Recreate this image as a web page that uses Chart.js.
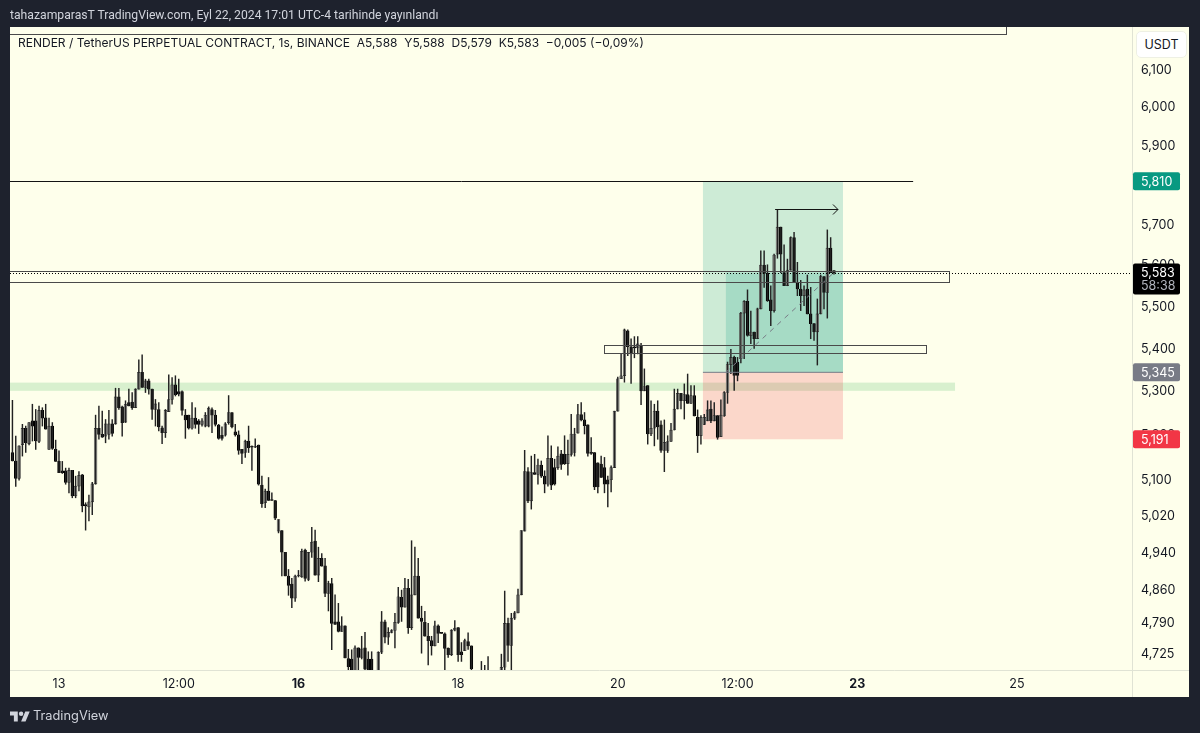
<!DOCTYPE html>
<html>
<head>
    <title>RENDER / TetherUS PERPETUAL CONTRACT</title>
    <script src="https://cdn.jsdelivr.net/npm/chart.js"></script>
    <style>
        html, body { margin: 0; padding: 0; background: #1e222d; overflow: hidden; }
        canvas { position: absolute; left: 0; top: 0; }
        .txt { position: absolute; font-family: Inter, sans-serif; white-space: pre; }
        #published { left: 10px; top: 7px; font-family: Roboto, sans-serif; font-size: 12.2px; line-height: 16px; color: #d1d4dc; }
        #legend { left: 18px; top: 35px; font-size: 12px; line-height: 16px; color: #131722; }
        #unit { left: 1136px; top: 31px; width: 49px; height: 25px; line-height: 25px; text-align: center; font-size: 12.5px;
                color: #131722; background: #fff; border: 1px solid #eef0e4; border-radius: 5px; }
        #brand { left: 33px; top: 707px; font-size: 12.8px; line-height: 18px; color: #d1d4dc; }
        #logo { position: absolute; left: 10px; top: 709px; }
    </style>
</head>
<body>
    <canvas id="priceChart" width="1200" height="733"></canvas>
    <div class="txt" id="published">tahazamparasT TradingView.com, Eyl 22, 2024 17:01 UTC-4 tarihinde yayınlandı</div>
    <div class="txt" id="legend">RENDER / TetherUS PERPETUAL CONTRACT, 1s, BINANCE  A5,588  Y5,588  D5,579  K5,583  −0,005 (−0,09%)</div>
    <div class="txt" id="unit">USDT</div>
    <svg id="logo" width="20" height="14" viewBox="0 0 36 24"><path fill="#d1d4dc" d="M14 22H7V11H0V4h14v18zM28 22h-8l7.5-18h8L28 22z"/><circle fill="#d1d4dc" cx="20" cy="8" r="4"/></svg>
    <div class="txt" id="brand">TradingView</div>

    <script>
        // Hourly candles, first one is 14 hours before Sep 13 00:00
        const firstHour = -14;
        const opens = [
            5.161,5.142,5.103,5.179,5.216,5.181,5.233,5.233,5.186,5.257,
            5.240,5.168,5.221,5.168,5.141,5.120,5.120,5.094,5.121,5.064,
            5.086,5.111,5.045,5.040,5.051,5.091,5.216,5.202,5.198,5.202,
            5.226,5.226,5.288,5.265,5.230,5.275,5.276,5.263,5.306,5.345,
            5.310,5.325,5.306,5.259,5.259,5.217,5.206,5.254,5.282,5.316,
            5.300,5.300,5.246,5.246,5.216,5.239,5.233,5.225,5.221,5.221,
            5.259,5.246,5.223,5.200,5.200,5.229,5.252,5.208,5.201,5.168,
            5.161,5.187,5.175,5.173,5.178,5.088,5.049,5.075,5.055,5.054,
            4.987,4.988,4.941,4.890,4.873,4.843,4.890,4.888,4.946,4.883,
            4.941,4.965,4.892,4.928,4.912,4.853,4.874,4.793,4.793,4.773,
            4.785,4.717,4.716,4.690,4.739,4.719,4.739,4.716,4.716,4.680,
            4.690,4.730,4.793,4.761,4.771,4.775,4.792,4.845,4.824,4.864,
            4.781,4.850,4.890,4.801,4.792,4.763,4.754,4.743,4.785,4.770,
            4.768,4.738,4.725,4.776,4.781,4.731,4.733,4.752,4.743,4.690,
            4.670,4.660,4.680,4.670,4.660,4.650,4.665,4.675,4.699,4.790,
            4.744,4.801,4.812,4.850,4.987,5.118,5.053,5.116,5.112,5.133,
            5.108,5.090,5.148,5.127,5.127,5.158,5.157,5.136,5.157,5.161,
            5.205,5.247,5.235,5.224,5.161,5.161,5.138,5.135,5.127,5.100,
            5.100,5.127,5.255,5.330,5.337,5.443,5.405,5.405,5.402,5.408,
            5.302,5.314,5.203,5.216,5.255,5.224,5.166,5.166,5.186,5.212,
            5.260,5.296,5.279,5.293,5.273,5.291,5.241,5.199,5.225,5.233,
            5.260,5.233,5.245,5.197,5.244,5.298,5.363,5.380,5.369,5.377,
            5.485,5.513,5.431,5.440,5.424,5.495,5.601,5.581,5.517,5.491,
            5.628,5.695,5.583,5.551,5.589,5.669,5.559,5.543,5.527,5.543,
            5.483,5.460,5.440,5.483,5.573,5.535,5.643,5.588
        ];
        const highs = [
            5.280,5.198,5.176,5.225,5.221,5.229,5.271,5.259,5.267,5.263,
            5.271,5.239,5.229,5.189,5.165,5.141,5.126,5.126,5.121,5.108,
            5.118,5.112,5.049,5.066,5.094,5.246,5.267,5.255,5.236,5.257,
            5.236,5.308,5.308,5.267,5.279,5.306,5.298,5.307,5.374,5.386,
            5.329,5.329,5.306,5.282,5.275,5.221,5.259,5.339,5.333,5.337,
            5.329,5.302,5.259,5.246,5.275,5.263,5.236,5.238,5.252,5.265,
            5.263,5.257,5.225,5.219,5.229,5.291,5.252,5.225,5.210,5.168,
            5.189,5.221,5.176,5.192,5.178,5.108,5.079,5.105,5.071,5.054,
            5.012,4.988,4.941,4.904,4.885,4.892,4.902,4.948,4.948,4.941,
            4.995,4.989,4.952,4.938,4.928,4.879,4.885,4.850,4.832,4.804,
            4.785,4.736,4.735,4.743,4.739,4.763,4.771,4.731,4.731,4.690,
            4.731,4.815,4.797,4.781,4.777,4.811,4.866,4.860,4.885,4.883,
            4.966,4.952,4.928,4.826,4.815,4.790,4.763,4.795,4.787,4.771,
            4.770,4.739,4.777,4.796,4.781,4.750,4.757,4.770,4.743,4.692,
            4.685,4.711,4.703,4.721,4.680,4.675,4.685,4.726,4.858,4.801,
            4.811,4.815,4.862,4.988,5.166,5.127,5.153,5.157,5.146,5.142,
            5.120,5.199,5.176,5.146,5.174,5.166,5.199,5.189,5.248,5.216,
            5.271,5.275,5.252,5.224,5.195,5.161,5.138,5.153,5.150,5.108,
            5.131,5.255,5.334,5.388,5.447,5.445,5.424,5.429,5.429,5.413,
            5.353,5.314,5.279,5.271,5.279,5.233,5.235,5.199,5.227,5.306,
            5.306,5.296,5.318,5.341,5.314,5.314,5.258,5.245,5.248,5.279,
            5.279,5.275,5.245,5.281,5.300,5.369,5.399,5.383,5.380,5.487,
            5.515,5.541,5.490,5.440,5.497,5.636,5.636,5.602,5.551,5.628,
            5.737,5.695,5.651,5.616,5.671,5.682,5.608,5.564,5.551,5.577,
            5.547,5.460,5.519,5.577,5.573,5.688,5.669,5.588
        ];
        const lows = [
            5.142,5.085,5.099,5.153,5.161,5.178,5.187,5.168,5.183,5.221,
            5.214,5.168,5.168,5.141,5.116,5.114,5.090,5.071,5.060,5.060,
            5.075,5.029,4.989,5.009,5.023,5.090,5.191,5.195,5.183,5.191,
            5.198,5.225,5.259,5.198,5.229,5.267,5.259,5.263,5.306,5.310,
            5.298,5.294,5.236,5.221,5.210,5.181,5.195,5.254,5.271,5.290,
            5.290,5.246,5.193,5.214,5.214,5.216,5.204,5.221,5.219,5.219,
            5.206,5.221,5.191,5.189,5.198,5.225,5.217,5.198,5.157,5.136,
            5.150,5.161,5.121,5.172,5.088,5.039,5.038,5.054,5.054,5.012,
            4.983,4.890,4.890,4.849,4.823,4.836,4.888,4.887,4.879,4.880,
            4.930,4.892,4.878,4.911,4.846,4.816,4.735,4.788,4.772,4.773,
            4.718,4.680,4.680,4.680,4.680,4.716,4.680,4.680,4.680,4.660,
            4.680,4.727,4.749,4.746,4.770,4.739,4.790,4.794,4.824,4.769,
            4.777,4.850,4.801,4.728,4.763,4.704,4.724,4.743,4.750,4.769,
            4.680,4.719,4.723,4.774,4.711,4.711,4.733,4.736,4.680,4.660,
            4.650,4.650,4.660,4.650,4.640,4.640,4.650,4.660,4.680,4.711,
            4.680,4.798,4.812,4.850,4.987,5.049,5.035,5.112,5.090,5.105,
            5.071,5.086,5.078,5.088,5.123,5.123,5.134,5.110,5.153,5.153,
            5.205,5.233,5.203,5.153,5.157,5.078,5.071,5.105,5.071,5.040,
            5.073,5.127,5.255,5.330,5.322,5.384,5.319,5.379,5.388,5.270,
            5.302,5.180,5.199,5.176,5.191,5.161,5.118,5.161,5.186,5.212,
            5.260,5.260,5.237,5.273,5.273,5.244,5.161,5.180,5.224,5.233,
            5.229,5.233,5.191,5.197,5.243,5.273,5.342,5.303,5.325,5.367,
            5.377,5.430,5.412,5.401,5.424,5.495,5.547,5.513,5.455,5.487,
            5.618,5.583,5.551,5.551,5.589,5.559,5.527,5.491,5.503,5.483,
            5.424,5.420,5.362,5.483,5.495,5.473,5.583,5.579
        ];
        const closes = [
            5.142,5.103,5.176,5.216,5.183,5.229,5.221,5.187,5.257,5.239,
            5.214,5.221,5.170,5.141,5.116,5.116,5.094,5.121,5.064,5.086,
            5.110,5.042,5.042,5.051,5.091,5.216,5.202,5.196,5.226,5.226,
            5.204,5.288,5.263,5.229,5.271,5.267,5.263,5.306,5.345,5.310,
            5.325,5.306,5.259,5.272,5.219,5.206,5.257,5.282,5.316,5.293,
            5.294,5.257,5.235,5.216,5.239,5.225,5.225,5.233,5.246,5.262,
            5.246,5.225,5.193,5.193,5.226,5.252,5.219,5.201,5.166,5.159,
            5.187,5.172,5.173,5.175,5.090,5.047,5.075,5.054,5.054,5.015,
            5.012,4.941,4.890,4.870,4.843,4.890,4.892,4.943,4.885,4.941,
            4.963,4.892,4.928,4.911,4.853,4.874,4.790,4.788,4.773,4.785,
            4.718,4.700,4.680,4.739,4.719,4.737,4.695,4.690,4.690,4.670,
            4.730,4.793,4.761,4.771,4.775,4.792,4.846,4.824,4.864,4.781,
            4.850,4.890,4.801,4.794,4.763,4.754,4.743,4.785,4.769,4.769,
            4.738,4.725,4.776,4.780,4.725,4.725,4.754,4.743,4.696,4.670,
            4.660,4.680,4.670,4.660,4.650,4.665,4.675,4.699,4.790,4.744,
            4.801,4.812,4.850,4.988,5.118,5.053,5.116,5.112,5.133,5.108,
            5.090,5.148,5.088,5.090,5.153,5.134,5.136,5.157,5.203,5.203,
            5.247,5.235,5.222,5.159,5.159,5.084,5.084,5.105,5.090,5.090,
            5.127,5.255,5.330,5.337,5.445,5.405,5.388,5.402,5.412,5.302,
            5.312,5.203,5.216,5.255,5.219,5.166,5.184,5.186,5.212,5.260,
            5.296,5.279,5.293,5.273,5.291,5.244,5.199,5.241,5.241,5.258,
            5.233,5.245,5.195,5.246,5.298,5.363,5.380,5.338,5.338,5.485,
            5.513,5.432,5.440,5.424,5.495,5.601,5.581,5.515,5.491,5.626,
            5.695,5.628,5.551,5.589,5.669,5.559,5.543,5.527,5.541,5.483,
            5.460,5.440,5.483,5.573,5.535,5.643,5.583,5.583
        ];

        // Axis ticks
        const priceTicks = [6.1, 6.0, 5.9, 5.7, 5.6, 5.5, 5.4, 5.3, 5.2, 5.1, 5.02, 4.94, 4.86, 4.79, 4.725];
        const timeTicks = [0, 36, 72, 120, 168, 204, 240, 288];
        const timeLabels = ['13', '12:00', '16', '18', '20', '12:00', '23', '25'];
        const boldTimeLabels = ['16', '23'];

        // Drawings on the chart, in hours and prices
        const targetPrice = 5.810;
        const entryPrice = 5.345;
        const stopPrice = 5.191;
        const lastPrice = 5.583;
        const positionHours = [193.6, 235.7];
        const activeHours = [200.5, 233];
        const levelPrice = 5.810;
        const levelEndHour = 256.8;
        const bandPrices = [5.302, 5.321];
        const bandEndHour = 269.4;
        const arrowHours = [215.3, 234.2];
        const arrowPrice = 5.741;
        const boxStartHours = [-20, -20, 163.9];
        const boxEndHours = [284.7, 267.6, 260.7];
        const boxTopPrices = [6.3, 5.587, 5.410];
        const boxBottomPrices = [6.195, 5.559, 5.390];
        const countdown = '58:38';

        const hours = opens.map((_, i) => firstHour + i);
        const decimalComma = value => value.toFixed(3).replace('.', ',');

        // Panel background, position tool, boxes and the price tags on the axis
        const drawingsPlugin = {
            id: 'drawings',
            beforeDraw(chart) {
                const { ctx, chartArea: area, scales: { y } } = chart;
                ctx.save();
                ctx.fillStyle = '#feffeb';
                ctx.fillRect(area.left, area.top, y.right - area.left, 697 - area.top);
                ctx.strokeStyle = '#e0e3d4';
                ctx.lineWidth = 1;
                ctx.beginPath();
                ctx.moveTo(area.right + 0.5, area.top);
                ctx.lineTo(area.right + 0.5, 697);
                ctx.moveTo(area.left, area.bottom + 0.5);
                ctx.lineTo(y.right, area.bottom + 0.5);
                ctx.stroke();
                ctx.restore();
            },
            beforeDatasetsDraw(chart) {
                const { ctx, chartArea: area, scales: { x, y } } = chart;
                const zone = (h0, h1, p0, p1, color) => {
                    ctx.fillStyle = color;
                    ctx.fillRect(x.getPixelForValue(h0), y.getPixelForValue(p0),
                        x.getPixelForValue(h1) - x.getPixelForValue(h0), y.getPixelForValue(p1) - y.getPixelForValue(p0));
                };
                ctx.save();
                ctx.beginPath();
                ctx.rect(area.left, area.top, area.width, area.height);
                ctx.clip();
                zone(-20, bandEndHour, bandPrices[1], bandPrices[0], '#d8f0ce');
                zone(positionHours[0], positionHours[1], targetPrice, entryPrice, 'rgba(8, 153, 129, 0.2)');
                zone(activeHours[0], positionHours[1], lastPrice, entryPrice, 'rgba(8, 153, 129, 0.2)');
                zone(positionHours[0], positionHours[1], entryPrice, stopPrice, 'rgba(242, 54, 69, 0.2)');
                ctx.restore();
            },
            afterDatasetsDraw(chart) {
                const { ctx, chartArea: area, scales: { x, y } } = chart;
                const line = (x0, y0, x1, y1) => {
                    ctx.beginPath();
                    ctx.moveTo(x0, y0);
                    ctx.lineTo(x1, y1);
                    ctx.stroke();
                };
                ctx.save();
                ctx.beginPath();
                ctx.rect(area.left, area.top, area.width, area.height);
                ctx.clip();
                ctx.lineWidth = 1;

                // entry line and the dashed line of the open trade
                ctx.strokeStyle = '#787b86';
                line(x.getPixelForValue(positionHours[0]), y.getPixelForValue(entryPrice),
                    x.getPixelForValue(positionHours[1]), y.getPixelForValue(entryPrice));
                ctx.setLineDash([5, 5]);
                line(x.getPixelForValue(activeHours[0]), y.getPixelForValue(entryPrice),
                    x.getPixelForValue(activeHours[1]), y.getPixelForValue(lastPrice));
                ctx.setLineDash([]);

                // boxes
                ctx.strokeStyle = '#4a4a4a';
                boxStartHours.forEach((start, i) => {
                    const left = Math.round(x.getPixelForValue(start)) + 0.5;
                    const top = Math.round(y.getPixelForValue(boxTopPrices[i])) + 0.5;
                    const right = Math.round(x.getPixelForValue(boxEndHours[i])) + 0.5;
                    const bottom = Math.round(y.getPixelForValue(boxBottomPrices[i])) + 0.5;
                    ctx.strokeRect(left, top, right - left, bottom - top);
                });

                // black level
                ctx.strokeStyle = '#131313';
                const levelY = Math.round(y.getPixelForValue(levelPrice)) + 0.5;
                line(area.left, levelY, x.getPixelForValue(levelEndHour), levelY);

                // arrow
                const arrowY = Math.round(y.getPixelForValue(arrowPrice)) + 0.5;
                const arrowEnd = x.getPixelForValue(arrowHours[1]);
                line(x.getPixelForValue(arrowHours[0]), arrowY, arrowEnd, arrowY);
                line(arrowEnd - 5, arrowY - 5, arrowEnd, arrowY);
                line(arrowEnd - 5, arrowY + 5, arrowEnd, arrowY);

                // last price line
                ctx.strokeStyle = '#000';
                ctx.setLineDash([1, 2]);
                const lastY = Math.round(y.getPixelForValue(lastPrice)) + 0.5;
                line(area.left, lastY, area.right, lastY);
                ctx.restore();
            },
            afterDraw(chart) {
                const { ctx, chartArea: area, scales: { y } } = chart;
                const tagLeft = area.right + 1;
                const tag = (price, color, text, height) => {
                    const mid = y.getPixelForValue(price);
                    ctx.fillStyle = color;
                    ctx.beginPath();
                    ctx.roundRect(tagLeft, mid - 9, 47, height, 2);
                    ctx.fill();
                    ctx.fillStyle = '#fff';
                    ctx.fillText(text, area.right + 9, mid + 0.5);
                };
                ctx.save();
                ctx.font = '12.5px Inter, sans-serif';
                ctx.textBaseline = 'middle';
                tag(targetPrice, '#089981', decimalComma(targetPrice), 18);
                tag(entryPrice, '#787b86', decimalComma(entryPrice), 18);
                tag(stopPrice, '#f23645', decimalComma(stopPrice), 18);
                tag(lastPrice, '#000', decimalComma(lastPrice), 31);
                ctx.fillStyle = '#b2b5be';
                ctx.fillText(countdown, area.right + 9, y.getPixelForValue(lastPrice) + 13.5);
                ctx.restore();
            }
        };

        new Chart(document.getElementById('priceChart').getContext('2d'), {
            type: 'bar',
            plugins: [drawingsPlugin],
            data: {
                datasets: [
                    {
                        label: 'Wick',
                        data: hours.map((h, i) => ({ x: h, y: [lows[i], highs[i]] })),
                        backgroundColor: '#222',
                        barThickness: 0.8,
                        grouped: false
                    },
                    {
                        label: 'Body',
                        data: hours.map((h, i) => ({ x: h, y: [opens[i], closes[i]] })),
                        backgroundColor: opens.map((o, i) => closes[i] >= o ? '#e4e4da' : '#000'),
                        borderColor: opens.map((o, i) => closes[i] >= o ? '#333' : '#000'),
                        borderWidth: 0.7,
                        borderSkipped: false,
                        barThickness: 2.8,
                        minBarLength: 1,
                        grouped: false
                    }
                ]
            },
            options: {
                responsive: false,
                animation: false,
                layout: { padding: { left: 10, top: 27, right: 11, bottom: 36 } },
                plugins: { legend: { display: false }, tooltip: { enabled: false } },
                scales: {
                    x: {
                        type: 'linear',
                        offset: false,
                        min: -14.73,
                        max: 322.6,
                        grid: { display: false, drawTicks: false },
                        border: { display: false },
                        afterBuildTicks: scale => { scale.ticks = timeTicks.map(value => ({ value })); },
                        afterFit: scale => { scale.height = 27; },
                        ticks: {
                            autoSkip: false,
                            maxRotation: 0,
                            minRotation: 0,
                            padding: 7,
                            color: '#131722',
                            font: ctx => ({
                                family: 'Inter, sans-serif',
                                size: 12.5,
                                weight: ctx.tick && boldTimeLabels.includes(timeLabels[timeTicks.indexOf(ctx.tick.value)]) ? 'bold' : 'normal'
                            }),
                            callback: value => timeLabels[timeTicks.indexOf(value)]
                        }
                    },
                    y: {
                        type: 'logarithmic',
                        position: 'right',
                        min: 4.6934,
                        max: 6.215,
                        grid: { display: false, drawTicks: false },
                        border: { display: false },
                        afterBuildTicks: scale => { scale.ticks = priceTicks.map(value => ({ value })); },
                        afterFit: scale => { scale.width = 57; },
                        ticks: {
                            autoSkip: false,
                            padding: 9,
                            color: '#131722',
                            font: { family: 'Inter, sans-serif', size: 12.5 },
                            callback: value => decimalComma(value)
                        }
                    }
                }
            }
        });
    </script>
</body>
</html>
